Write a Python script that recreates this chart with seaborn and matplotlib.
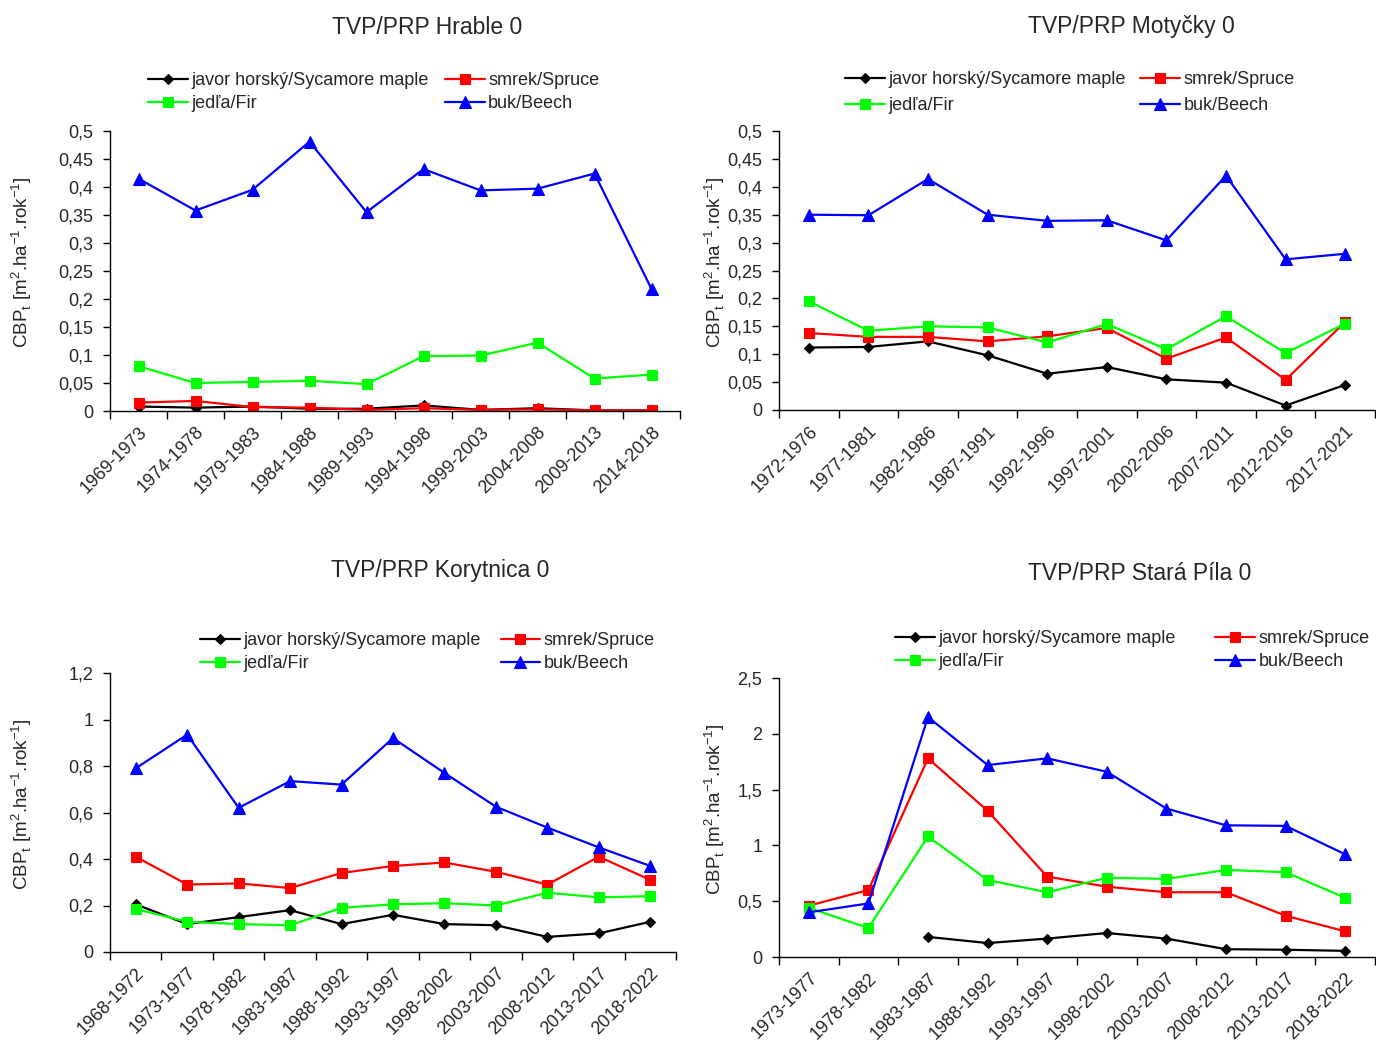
import numpy as np
import pandas as pd
import matplotlib
matplotlib.use("Agg")
import matplotlib.pyplot as plt
from matplotlib.ticker import FixedLocator, FuncFormatter, NullFormatter
import seaborn as sns

sns.set_theme(style="white")
plt.rcParams["font.family"] = ["Liberation Sans", "DejaVu Sans"]
plt.rcParams["mathtext.fontset"] = "custom"
plt.rcParams["mathtext.rm"] = "Liberation Sans"

# ---- data -------------------------------------------------------------
hrable_periods = ["1969-1973", "1974-1978", "1979-1983", "1984-1988", "1989-1993",
                  "1994-1998", "1999-2003", "2004-2008", "2009-2013", "2014-2018"]
hrable_maple = [0.008, 0.006, 0.008, 0.004, 0.004, 0.010, 0.002, 0.005, 0.001, 0.001]
hrable_spruce = [0.015, 0.018, 0.007, 0.006, 0.002, 0.005, 0.002, 0.003, 0.001, 0.001]
hrable_fir = [0.080, 0.050, 0.052, 0.054, 0.048, 0.098, 0.099, 0.122, 0.058, 0.065]
hrable_beech = [0.415, 0.358, 0.395, 0.481, 0.355, 0.432, 0.394, 0.397, 0.424, 0.218]

motycky_periods = ["1972-1976", "1977-1981", "1982-1986", "1987-1991", "1992-1996",
                   "1997-2001", "2002-2006", "2007-2011", "2012-2016", "2017-2021"]
motycky_maple = [0.112, 0.113, 0.123, 0.098, 0.065, 0.077, 0.055, 0.049, 0.008, 0.045]
motycky_spruce = [0.138, 0.131, 0.131, 0.123, 0.132, 0.147, 0.092, 0.130, 0.054, 0.158]
motycky_fir = [0.195, 0.142, 0.150, 0.148, 0.121, 0.154, 0.109, 0.168, 0.102, 0.155]
motycky_beech = [0.350, 0.349, 0.414, 0.350, 0.339, 0.340, 0.304, 0.420, 0.270, 0.280]

korytnica_periods = ["1968-1972", "1973-1977", "1978-1982", "1983-1987", "1988-1992",
                     "1993-1997", "1998-2002", "2003-2007", "2008-2012", "2013-2017",
                     "2018-2022"]
korytnica_maple = [0.205, 0.120, 0.150, 0.180, 0.120, 0.160, 0.120, 0.115, 0.065, 0.080, 0.130]
korytnica_spruce = [0.410, 0.290, 0.295, 0.275, 0.340, 0.370, 0.385, 0.345, 0.290, 0.410, 0.310]
korytnica_fir = [0.185, 0.130, 0.120, 0.115, 0.190, 0.205, 0.210, 0.200, 0.255, 0.235, 0.240]
korytnica_beech = [0.790, 0.935, 0.620, 0.735, 0.720, 0.920, 0.770, 0.625, 0.535, 0.450, 0.370]

stara_periods = ["1973-1977", "1978-1982", "1983-1987", "1988-1992", "1993-1997",
                 "1998-2002", "2003-2007", "2008-2012", "2013-2017", "2018-2022"]
stara_maple = [np.nan, np.nan, 0.180, 0.125, 0.165, 0.215, 0.165, 0.070, 0.065, 0.055]
stara_spruce = [0.460, 0.600, 1.780, 1.310, 0.720, 0.630, 0.580, 0.580, 0.370, 0.230]
stara_fir = [0.440, 0.260, 1.080, 0.690, 0.580, 0.710, 0.700, 0.780, 0.760, 0.530]
stara_beech = [0.400, 0.480, 2.150, 1.720, 1.780, 1.660, 1.330, 1.180, 1.175, 0.920]

species_labels = ["javor horský/Sycamore maple", "smrek/Spruce", "jedľa/Fir", "buk/Beech"]
species_colors = ["#000000", "#FF0000", "#00FF00", "#0000FF"]
species_markers = ["D", "s", "s", "^"]
species_msize = [5.5, 7.5, 7.5, 8.5]

# layout in pixels: axes rect (left, top, right, bottom), title centre, legend corner
panels = [
    dict(title="TVP/PRP Hrable 0", periods=hrable_periods,
         series=[hrable_maple, hrable_spruce, hrable_fir, hrable_beech],
         ymax=0.5, ystep=0.05, rect=[110, 131, 680, 411],
         title_xy=(427, 28), legend_xy=(148, 72), colsp=0.9, lsp=0.36, ylab_x=34),
    dict(title="TVP/PRP Motyčky 0", periods=motycky_periods,
         series=[motycky_maple, motycky_spruce, motycky_fir, motycky_beech],
         ymax=0.5, ystep=0.05, rect=[779, 131, 1375, 410],
         title_xy=(1131, 27), legend_xy=(845, 71), colsp=0.8, lsp=0.52, ylab_x=727),
    dict(title="TVP/PRP Korytnica 0", periods=korytnica_periods,
         series=[korytnica_maple, korytnica_spruce, korytnica_fir, korytnica_beech],
         ymax=1.2, ystep=0.2, rect=[110, 673, 676, 952],
         title_xy=(440, 570), legend_xy=(200, 632), colsp=1.1, lsp=0.36, ylab_x=34),
    dict(title="TVP/PRP Stará Píla 0", periods=stara_periods,
         series=[stara_maple, stara_spruce, stara_fir, stara_beech],
         ymax=2.5, ystep=0.5, rect=[779, 678, 1375, 957],
         title_xy=(1140, 573), legend_xy=(895, 630), colsp=2.2, lsp=0.36, ylab_x=727),
]

W, H = 1376, 1044
fig = plt.figure(figsize=(W / 100, H / 100), dpi=100)
fig.patch.set_facecolor("white")

ylabel = (r"CBP$_\mathregular{t}$ [m$^\mathregular{2}$.ha$^\mathregular{-1}$"
          r".rok$^\mathregular{-1}$]")
FS = 13


def comma_fmt(v, pos):
    return "{:g}".format(round(v, 3)).replace(".", ",")


for p in panels:
    x0, y0, x1, y1 = p["rect"]
    ax = fig.add_axes([x0 / W, 1 - y1 / H, (x1 - x0) / W, (y1 - y0) / H])
    n = len(p["periods"])
    pos = np.arange(n)
    for vals, lab, col, mk, ms in zip(p["series"], species_labels, species_colors,
                                      species_markers, species_msize):
        df = pd.DataFrame({"pos": pos, "value": vals}).dropna()
        sns.lineplot(data=df, x="pos", y="value", ax=ax, color=col, marker=mk,
                     markersize=ms, markeredgecolor=col, markeredgewidth=0.8,
                     linewidth=1.6, label=lab, legend=False)

    ax.set_xlim(-0.5, n - 0.5)
    ax.set_ylim(0, p["ymax"])
    ax.set_facecolor("white")
    for s in ["top", "right"]:
        ax.spines[s].set_visible(False)
    for s in ["left", "bottom"]:
        ax.spines[s].set_color("black")
        ax.spines[s].set_linewidth(1.0)

    # x axis: tick marks between categories, labels at category centres
    ax.xaxis.set_major_locator(FixedLocator(np.arange(n + 1) - 0.5))
    ax.xaxis.set_major_formatter(NullFormatter())
    ax.xaxis.set_minor_locator(FixedLocator(pos))
    ax.set_xticklabels(p["periods"], minor=True, rotation=45, ha="right",
                       rotation_mode="anchor", fontsize=FS)
    ax.tick_params(axis="x", which="major", direction="out", length=6, width=1,
                   color="black", bottom=True)
    ax.tick_params(axis="x", which="minor", length=0, pad=9, bottom=True)

    yt = np.round(np.arange(0, p["ymax"] + p["ystep"] / 2, p["ystep"]), 3)
    ax.yaxis.set_major_locator(FixedLocator(yt))
    ax.yaxis.set_major_formatter(FuncFormatter(comma_fmt))
    ax.tick_params(axis="y", which="major", direction="out", length=5, width=1,
                   color="black", left=True, labelsize=FS, pad=7)

    ax.set_xlabel("")
    ax.set_ylabel(ylabel, fontsize=13.5)
    ax.yaxis.set_label_coords((p["ylab_x"] - x0) / (x1 - x0), 0.53)
    ax.grid(False)

    tx, ty = p["title_xy"]
    fig.text(tx / W, 1 - ty / H, p["title"], ha="center", va="center", fontsize=16.5)

    handles = ax.get_lines()[:4]
    order = [0, 2, 1, 3]
    lx, ly = p["legend_xy"]
    fig.legend([handles[i] for i in order], [species_labels[i] for i in order],
               loc="upper left", bbox_to_anchor=(lx / W, 1 - ly / H), ncol=2,
               frameon=False, fontsize=FS, borderpad=0, borderaxespad=0,
               handlelength=2.2, handletextpad=0.2, labelspacing=p["lsp"],
               columnspacing=p["colsp"])

fig.savefig("out.png", dpi=100, facecolor="white")
